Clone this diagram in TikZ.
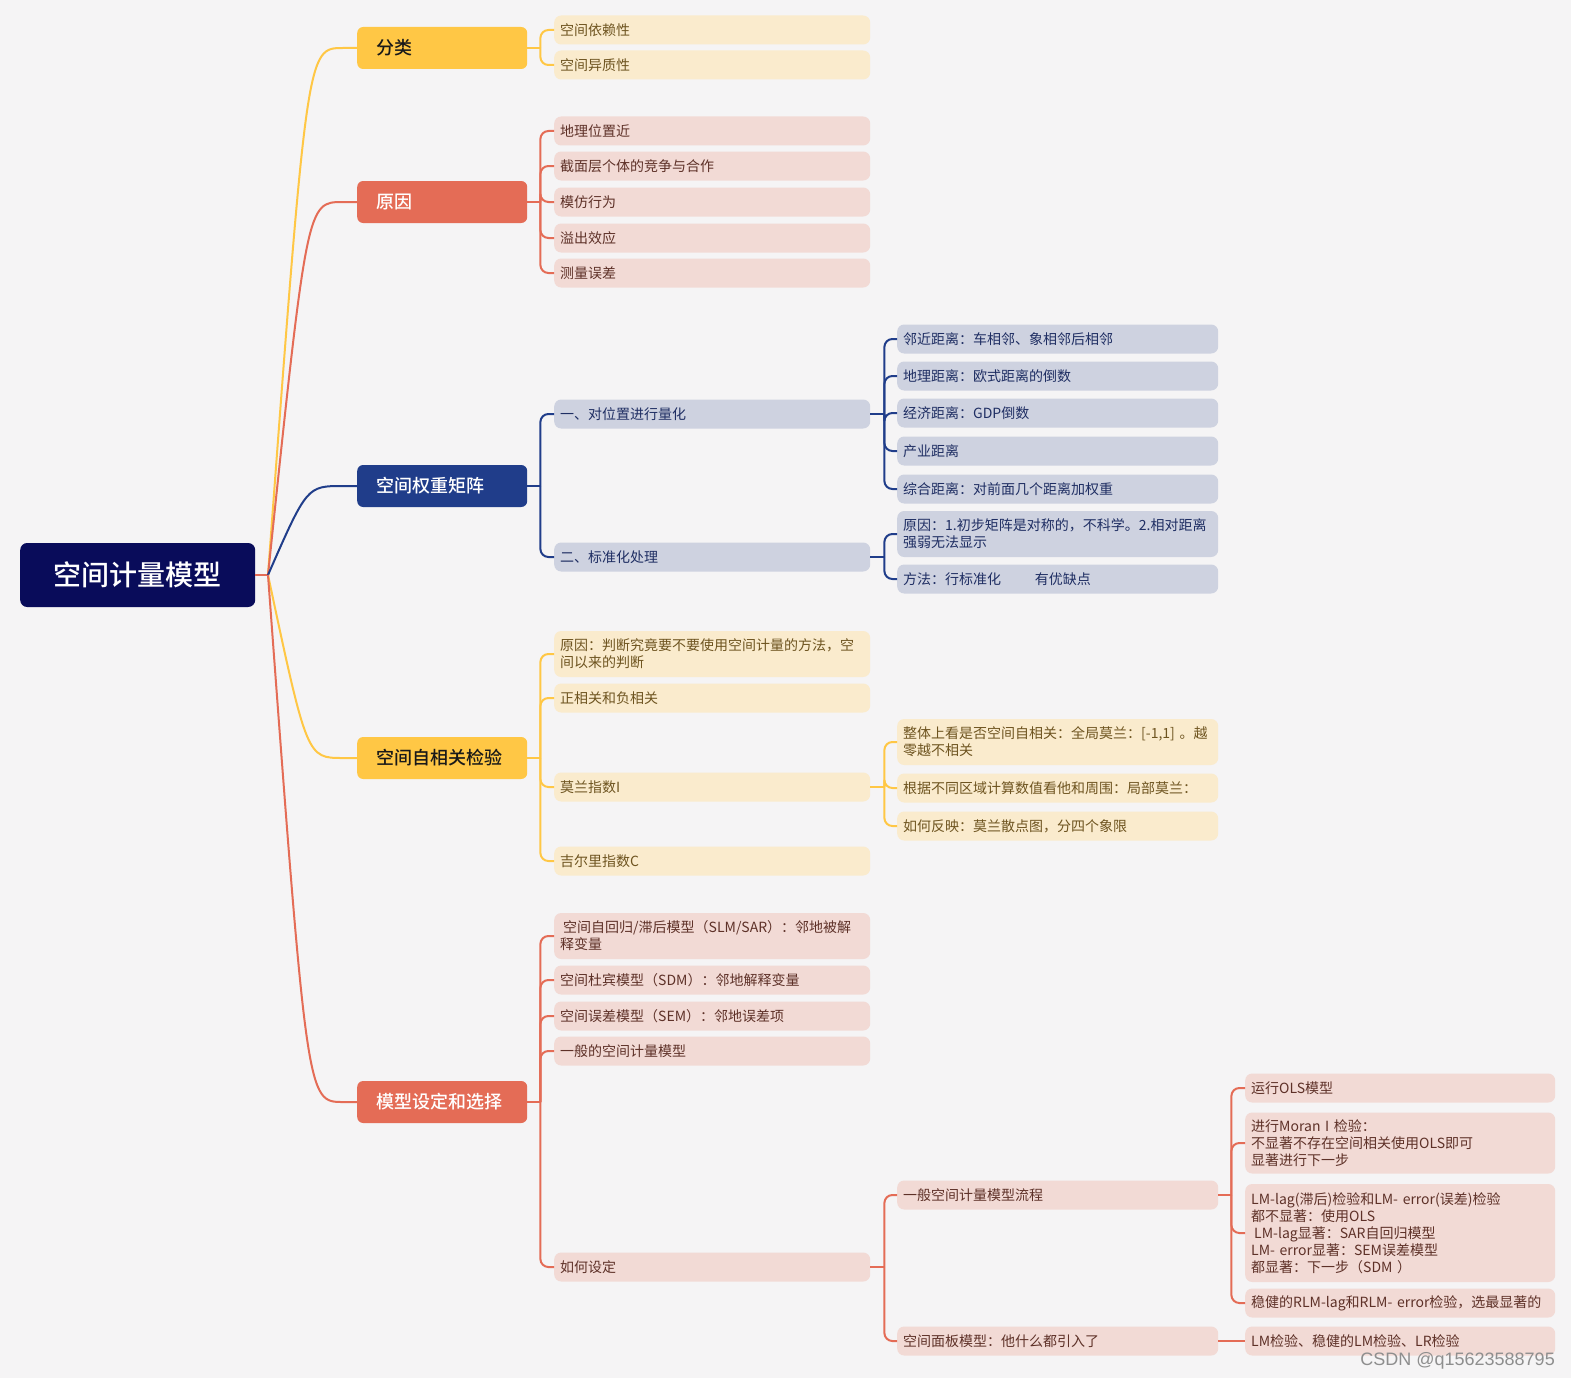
\documentclass[tikz,border=0pt]{standalone}
\usepackage{fontspec}
\setmainfont{Noto Sans CJK SC}
\IfFontExistsTF{Noto Sans CJK SC Medium}{\newfontfamily\medf{Noto Sans CJK SC Medium}}{\newfontfamily\medf{Noto Sans CJK SC}\def\medfbold{1}}
\newfontfamily\wmfont{Liberation Sans}
\usetikzlibrary{calc}
\definecolor{bgc}{HTML}{F5F4F5}
\definecolor{rootc}{HTML}{090C5A}
\definecolor{yelc}{HTML}{FFC745}
\definecolor{redc}{HTML}{E46C56}
\definecolor{bluc}{HTML}{203D8A}
\definecolor{yelL}{HTML}{FAEBCD}
\definecolor{redL}{HTML}{F2DAD5}
\definecolor{bluL}{HTML}{CED2E0}
\definecolor{yelT}{HTML}{6E5420}
\definecolor{redT}{HTML}{5E3128}
\definecolor{bluT}{HTML}{1F2E63}
\definecolor{wmc}{HTML}{8E8E8E}
\tikzset{
  rootbox/.style={fill=rootc, rounded corners=7pt, minimum width=235pt, minimum height=64pt,
    text=white, font=\fontsize{28}{32}\selectfont\medf, anchor=west, inner sep=0pt},
  brbox/.style={rounded corners=6pt, minimum width=170pt, minimum height=42pt, anchor=west,
    inner xsep=19pt, inner ysep=0pt, text width=132pt, align=left, font=\fontsize{18}{22}\selectfont\medf},
  brY/.style={brbox, fill=yelc, text=black!90},
  brR/.style={brbox, fill=redc, text=white},
  brB/.style={brbox, fill=bluc, text=white},
  lvbox/.style={rounded corners=7pt, anchor=west, inner xsep=6pt, inner ysep=2pt, align=left,
    font=\fontsize{14}{17}\selectfont, minimum height=29pt},
  lvtwo/.style={lvbox, text width=304pt},
  lvthree/.style={lvbox, text width=309pt},
  lvfour/.style={lvbox, text width=298pt},
  cY/.style={fill=yelL, text=yelT},
  cR/.style={fill=redL, text=redT},
  cB/.style={fill=bluL, text=bluT},
  lnY/.style={draw=yelc, line width=2pt, rounded corners=8pt},
  lnR/.style={draw=redc, line width=2pt, rounded corners=8pt},
  lnB/.style={draw=bluc, line width=2pt, rounded corners=8pt},
}
\begin{document}
\begin{tikzpicture}[x=1pt,y=-1pt]
\fill[bgc] (0,0) rectangle (1571,1378);
\useasboundingbox (0,0) rectangle (1571,1378);

% root and branches
\node[rootbox] (root) at (20,575) {空间计量模型};
\node[brY] (b1) at (357,48) {分类};
\node[brR] (b2) at (357,202) {原因};
\node[brB] (b3) at (357,486) {空间权重矩阵};
\node[brY] (b4) at (357,758) {空间自相关检验};
\node[brR] (b5) at (357,1102) {模型设定和选择};

% level 2
\node[lvtwo,cY] (a1) at (554,30) {空间依赖性};
\node[lvtwo,cY] (a2) at (554,65) {空间异质性};

\node[lvtwo,cR] (r1) at (554,131) {地理位置近};
\node[lvtwo,cR] (r2) at (554,166) {截面层个体的竞争与合作};
\node[lvtwo,cR] (r3) at (554,202) {模仿行为};
\node[lvtwo,cR] (r4) at (554,238) {溢出效应};
\node[lvtwo,cR] (r5) at (554,273) {测量误差};

\node[lvtwo,cB] (w1) at (554,414) {一、对位置进行量化};
\node[lvtwo,cB] (w2) at (554,557) {二、标准化处理};

\node[lvtwo,cY,minimum height=46pt] (s1) at (554,654) {原因：判断究竟要不要使用空间计量的方法，空\\间以来的判断};
\node[lvtwo,cY] (s2) at (554,698) {正相关和负相关};
\node[lvtwo,cY] (s3) at (554,787) {莫兰指数I};
\node[lvtwo,cY] (s4) at (554,861) {吉尔里指数C};

\node[lvtwo,cR,minimum height=46pt] (m1) at (554,936) {\hspace{3pt}空间自回归/滞后模型（SLM/SAR）：邻地被解\\释变量};
\node[lvtwo,cR] (m2) at (554,980) {空间杜宾模型（SDM）：邻地解释变量};
\node[lvtwo,cR] (m3) at (554,1016) {空间误差模型（SEM）：邻地误差项};
\node[lvtwo,cR] (m4) at (554,1051) {一般的空间计量模型};
\node[lvtwo,cR] (m5) at (554,1267) {如何设定};

% level 3
\node[lvthree,cB] (w11) at (897,339) {邻近距离：车相邻、象相邻后相邻};
\node[lvthree,cB] (w12) at (897,376) {地理距离：欧式距离的倒数};
\node[lvthree,cB] (w13) at (897,413) {经济距离：GDP倒数};
\node[lvthree,cB] (w14) at (897,451) {产业距离};
\node[lvthree,cB] (w15) at (897,489) {综合距离：对前面几个距离加权重};
\node[lvthree,cB,minimum height=46pt] (w21) at (897,534) {原因：1.初步矩阵是对称的，不科学。2.相对距离\\强弱无法显示};
\node[lvthree,cB] (w22) at (897,579) {方法：行标准化\hspace{2.4em}有优缺点};

\node[lvthree,cY,minimum height=46pt] (s31) at (897,742) {整体上看是否空间自相关：全局莫兰：[-1,1]~。越\\零越不相关};
\node[lvthree,cY] (s32) at (897,788) {根据不同区域计算数值看他和周围：局部莫兰：};
\node[lvthree,cY] (s33) at (897,826) {如何反映：莫兰散点图，分四个象限};

\node[lvthree,cR] (m51) at (897,1195) {一般空间计量模型流程};
\node[lvthree,cR] (m52) at (897,1341) {空间面板模型：他什么都引入了};

% level 4
\node[lvfour,cR] (p1) at (1245,1088) {运行OLS模型};
\node[lvfour,cR,minimum height=61pt] (p2) at (1245,1143) {进行Moran I 检验：\\不显著不存在空间相关使用OLS即可\\显著进行下一步};
\node[lvfour,cR,minimum height=98pt] (p3) at (1245,1233) {LM-lag(滞后)检验和LM-~error(误差)检验\\都不显著：使用OLS\\\hspace{3pt}LM-lag显著：SAR自回归模型\\LM-~error显著：SEM误差模型\\都显著：下一步（SDM~）};
\node[lvfour,cR] (p4) at (1245,1303) {稳健的RLM-lag和RLM-~error检验，选最显著的};
\node[lvfour,cR] (q1) at (1245,1341) {LM检验、稳健的LM检验、LR检验};

% root connectors
\coordinate (j) at (268,575);
\draw[redc, line width=2.5pt] (root.east) -- (j);
\draw[yelc, line width=2pt] (j) .. controls ($(b1.west)+(-50,0)$) and ($(b1.west)+(-50,0)$) .. ($(b1.west)+(-14,0)$) -- (b1.west);
\draw[redc, line width=2pt] (j) .. controls ($(b2.west)+(-50,0)$) and ($(b2.west)+(-50,0)$) .. ($(b2.west)+(-14,0)$) -- (b2.west);
\draw[bluc, line width=2pt] (j) .. controls ($(b3.west)+(-50,0)$) and ($(b3.west)+(-50,0)$) .. ($(b3.west)+(-14,0)$) -- (b3.west);
\draw[yelc, line width=2pt] (j) .. controls ($(b4.west)+(-50,0)$) and ($(b4.west)+(-50,0)$) .. ($(b4.west)+(-14,0)$) -- (b4.west);
\draw[redc, line width=2pt] (j) .. controls ($(b5.west)+(-50,0)$) and ($(b5.west)+(-50,0)$) .. ($(b5.west)+(-14,0)$) -- (b5.west);

% branch -> level 2
\draw[lnY] (b1.east) -- ++(13,0);
\foreach \c in {a1,a2} \draw[lnY] ($(b1.east)+(13,0)$) |- (\c.west);
\draw[lnR] (b2.east) -- ++(13,0);
\foreach \c in {r1,r2,r3,r4,r5} \draw[lnR] ($(b2.east)+(13,0)$) |- (\c.west);
\draw[lnB] (b3.east) -- ++(13,0);
\foreach \c in {w1,w2} \draw[lnB] ($(b3.east)+(13,0)$) |- (\c.west);
\draw[lnY] (b4.east) -- ++(13,0);
\foreach \c in {s1,s2,s3,s4} \draw[lnY] ($(b4.east)+(13,0)$) |- (\c.west);
\draw[lnR] (b5.east) -- ++(13,0);
\foreach \c in {m1,m2,m3,m4,m5} \draw[lnR] ($(b5.east)+(13,0)$) |- (\c.west);

% level 2 -> level 3
\draw[lnB] (w1.east) -- ++(14,0);
\foreach \c in {w11,w12,w13,w14,w15} \draw[lnB] ($(w1.east)+(14,0)$) |- (\c.west);
\draw[lnB] (w2.east) -- ++(14,0);
\foreach \c in {w21,w22} \draw[lnB] ($(w2.east)+(14,0)$) |- (\c.west);
\draw[lnY] (s3.east) -- ++(14,0);
\foreach \c in {s31,s32,s33} \draw[lnY] ($(s3.east)+(14,0)$) |- (\c.west);
\draw[lnR] (m5.east) -- ++(14,0);
\foreach \c in {m51,m52} \draw[lnR] ($(m5.east)+(14,0)$) |- (\c.west);

% level 3 -> level 4
\draw[lnR] (m51.east) -- ++(13,0);
\foreach \c in {p1,p2,p3,p4} \draw[lnR] ($(m51.east)+(13,0)$) |- (\c.west);
\draw[lnR] (m52.east) -- (q1.west);

% watermark
\node[anchor=base east, text=wmc, font=\fontsize{18}{18}\selectfont\wmfont, inner sep=0pt] (wm) at (1555,1365) {CSDN @q15623588795};
\end{tikzpicture}
\end{document}
